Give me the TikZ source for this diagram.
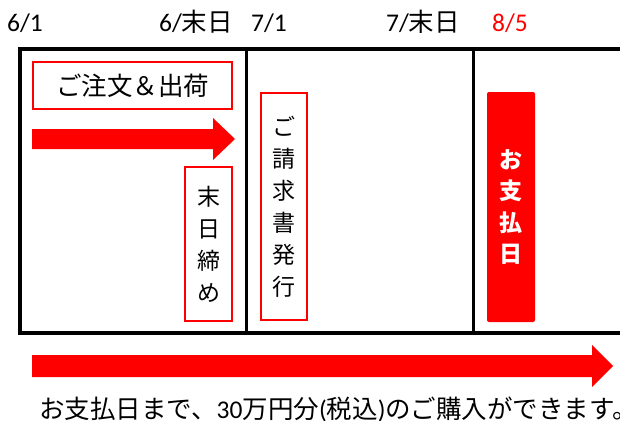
\documentclass[tikz,border=0pt]{standalone}
\usepackage{fontspec}
\setmainfont{Carlito}
\newfontfamily\jp{Noto Sans CJK JP}
\begin{document}
\begin{tikzpicture}[x=1pt,y=-1pt,
  redbox/.style={draw=red, line width=2.5pt, inner sep=0pt},
  vtext/.style={font=\jp\fontsize{23}{32}\selectfont, align=center},
  datelbl/.style={anchor=base west, inner sep=0pt, font=\fontsize{25.5}{25.5}\selectfont},
  frame/.style={line width=3.5pt, draw=black},
  bigarrow/.style={fill=red}]
\useasboundingbox (0,0) rectangle (620,420);
% frame
\draw[frame] (20,49) rectangle (660,333);
\coordinate (v1t) at (246.5,49); \coordinate (v1b) at (246.5,333);
\coordinate (v2t) at (473.5,49); \coordinate (v2b) at (473.5,333);
\draw[frame] (v1t) -- (v1b);
\draw[frame] (v2t) -- (v2b);
% date labels
\node[datelbl] (d1) at (7,32) {6/1};
\node[datelbl] (d2) at (159,32) {6/{\jp 末日}};
\node[datelbl] (d3) at (251,32) {7/1};
\node[datelbl] (d4) at (386,32) {7/{\jp 末日}};
\node[datelbl, text=red] (d5) at (492,32) {8/5};
% boxes
\node[redbox, minimum width=199pt, minimum height=47pt, font=\jp\fontsize{25.5}{25.5}\selectfont] (order) at (132.5,85.5) {ご注文＆出荷};
\node[redbox, minimum width=47pt, minimum height=154pt, vtext] (close) at (208.5,244) {末\\日\\締\\め};
\node[redbox, minimum width=46pt, minimum height=227pt, vtext] (invoice) at (284,206.5) {ご\\請\\求\\書\\発\\行};
\node[fill=red, rounded corners=2pt, minimum width=48pt, minimum height=230pt, text=white, font=\jp\bfseries\fontsize{23}{31.5}\selectfont, align=center] (pay) at (511,207) {お\\支\\払\\日};
% arrows
\fill[bigarrow] (32,129) -- (213,129) -- (213,118) -- (235,139) -- (213,160) -- (213,149) -- (32,149) -- cycle;
\fill[bigarrow] (32,355) -- (592,355) -- (592,345) -- (613,366) -- (592,387) -- (592,377) -- (32,377) -- cycle;
% note
\node[anchor=base west, inner sep=0pt, font=\jp\fontsize{25.5}{25.5}\selectfont] (note) at (39,418.5) {お支払日まで、{\rmfamily 30}万円分{\rmfamily (}税込{\rmfamily )}のご購入ができます。};
\end{tikzpicture}
\end{document}
